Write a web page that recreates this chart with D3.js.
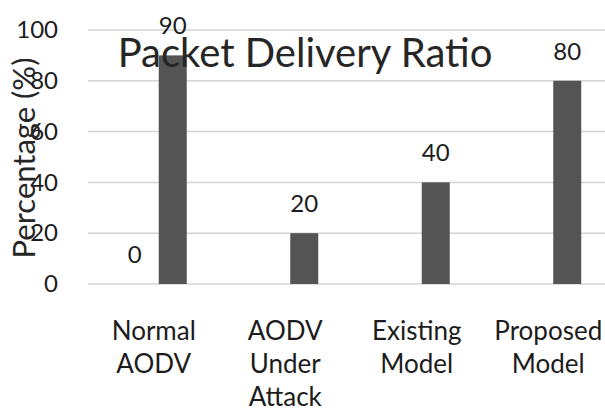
<!DOCTYPE html>
<html>
<head>
<meta charset="utf-8">
<script src="https://cdn.jsdelivr.net/npm/d3@7"></script>
<style>
  html, body { margin: 0; padding: 0; background: #fff; }
  svg { display: block; font-family: Lato, "Open Sans", sans-serif; }
</style>
</head>
<body>
<svg id="chart" width="605" height="412"></svg>
<script>
// Packet delivery ratio per routing scheme
const categories = ["Normal AODV", "AODV Under Attack", "Existing Model", "Proposed Model"];
const seriesNames = ["Baseline", "PDR"];
const baselineValues = [0, null, null, null];
const pdrValues = [90, 20, 40, 80];
const yTicks = [0, 20, 40, 60, 80, 100];
const chartTitle = "Packet Delivery Ratio";
const yTitle = "Percentage (%)";

const rows = categories.map((c, i) => ({
  category: c,
  values: [
    { series: seriesNames[0], value: baselineValues[i] },
    { series: seriesNames[1], value: pdrValues[i] }
  ].filter(d => d.value !== null)
}));

const svg = d3.select("#chart");
const plot = { left: 88, right: 614, top: 30, bottom: 284 };

const x = d3.scaleBand().domain(categories).range([plot.left, plot.right]).padding(0);
const bw = x.bandwidth();
const xInner = d3.scaleBand().domain(seriesNames)
  .range([bw / 2 - 33, bw / 2 + 33]).paddingInner(0.2632).paddingOuter(0);
const y = d3.scaleLinear().domain([0, 100]).range([plot.bottom, plot.top]);

// Horizontal gridlines
svg.append("g")
  .selectAll("line")
  .data(yTicks)
  .join("line")
  .attr("x1", plot.left).attr("x2", 605)
  .attr("y1", d => y(d)).attr("y2", d => y(d))
  .attr("stroke", "#d4d4d4").attr("stroke-width", 1.5);

// Y axis tick labels
const yAxis = d3.axisLeft(y).tickValues(yTicks).tickSize(0).tickPadding(0);
const gy = svg.append("g").attr("transform", `translate(${plot.left - 30},0)`).call(yAxis);
gy.select(".domain").remove();
gy.selectAll("text")
  .attr("font-family", "Lato, sans-serif")
  .attr("font-size", 24)
  .attr("fill", "#1c1c1c");

// Y axis title
svg.append("text")
  .attr("transform", `translate(35,158) rotate(-90)`)
  .attr("text-anchor", "middle")
  .attr("font-size", 31)
  .attr("fill", "#262626")
  .text(yTitle);

// Bars
const groups = svg.append("g")
  .selectAll("g")
  .data(rows)
  .join("g")
  .attr("transform", d => `translate(${x(d.category)},0)`);

groups.selectAll("rect")
  .data(d => d.values)
  .join("rect")
  .attr("x", d => xInner(d.series))
  .attr("width", xInner.bandwidth())
  .attr("y", d => y(d.value))
  .attr("height", d => y(0) - y(d.value))
  .attr("fill", "#545454");

// Value labels
groups.selectAll("text.val")
  .data(d => d.values)
  .join("text")
  .attr("class", "val")
  .attr("x", d => xInner(d.series) + xInner.bandwidth() / 2)
  .attr("y", d => y(d.value) - 21)
  .attr("text-anchor", "middle")
  .attr("font-size", 24)
  .attr("fill", "#1c1c1c")
  .text(d => d.value);

// Chart title
svg.append("text")
  .attr("x", 305).attr("y", 67)
  .attr("text-anchor", "middle")
  .attr("font-size", 40)
  .attr("fill", "#262626")
  .text(chartTitle);

// Category labels, one word per line
const xAxis = d3.axisBottom(x).tickSize(0).tickFormat("");
svg.append("g").attr("transform", `translate(0,${plot.bottom})`).call(xAxis)
  .select(".domain").remove();

svg.append("g")
  .selectAll("text")
  .data(categories)
  .join("text")
  .attr("text-anchor", "middle")
  .attr("font-size", 26)
  .attr("fill", "#1c1c1c")
  .each(function (c) {
    const t = d3.select(this);
    c.split(" ").forEach((w, i) => {
      t.append("tspan")
        .attr("x", x(c) + bw / 2)
        .attr("y", 340 + i * 33)
        .text(w);
    });
  });
</script>
</body>
</html>
